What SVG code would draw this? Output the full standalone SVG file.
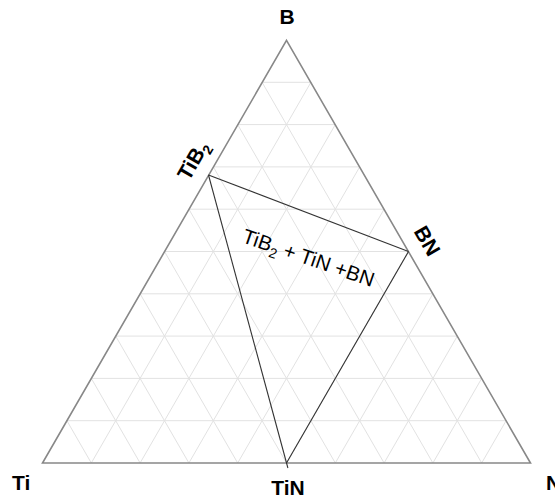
<svg xmlns="http://www.w3.org/2000/svg" width="555" height="502" viewBox="0 0 555 502">
<style>
.grid{stroke:#e2e2e2;stroke-width:1;fill:none}
.frame{stroke:#888;stroke-width:1.6;fill:none;stroke-linejoin:miter}
.tie{stroke:#333;stroke-width:1.1;fill:none}
.lbl{font-family:"Liberation Sans",Arial,sans-serif;font-weight:bold;font-size:21px;fill:#000}
.region{font-family:"Liberation Sans",Arial,sans-serif;font-size:20.5px;fill:#000}
</style>
<rect width="555" height="502" fill="#fff"/>
<g id="grid" class="grid">
<path d="M66.9 420.7H506.1M91.3 378.4H481.7M115.7 336.1H457.3M140.1 293.8H432.9M164.5 251.5H408.5M188.9 209.2H384.1M213.3 166.9H359.7M237.7 124.6H335.3M262.1 82.3H310.9"/>
<path d="M91.3 463L310.9 82.3M140.1 463L335.3 124.6M188.9 463L359.7 166.9M237.7 463L384.1 209.2M286.5 463L408.5 251.5M335.3 463L432.9 293.8M384.1 463L457.3 336.1M432.9 463L481.7 378.4M481.7 463L506.1 420.7"/>
<path d="M91.3 463L66.9 420.7M140.1 463L91.3 378.4M188.9 463L115.7 336.1M237.7 463L140.1 293.8M286.5 463L164.5 251.5M335.3 463L188.9 209.2M384.1 463L213.3 166.9M432.9 463L237.7 124.6M481.7 463L262.1 82.3"/>
</g>
<g id="frame">
<path class="frame" d="M286.5 40.4L530.5 463H42.5Z"/>
</g>
<g id="connectors" class="tie">
<path d="M208.5 175L408.5 251.5"/>
<path d="M208.5 175L287.9 468"/>
<path d="M408.5 251.5L286.5 463"/>
</g>
<g id="B"><text class="lbl" x="287" y="24" text-anchor="middle">B</text></g>
<g id="Ti"><text class="lbl" x="12" y="490">Ti</text></g>
<g id="N"><text class="lbl" x="546" y="490">N</text></g>
<g id="TiN"><text class="lbl" x="288" y="495" text-anchor="middle">TiN</text></g>
<g id="TiB2"><text class="lbl" transform="translate(194,161) rotate(-60)" text-anchor="middle" y="6">TiB<tspan font-size="14" dy="5">2</tspan></text></g>
<g id="BN"><text class="lbl" transform="translate(427,241) rotate(60)" text-anchor="middle" y="7">BN</text></g>
<g id="region"><text class="region" transform="translate(241,242) rotate(19)">TiB<tspan font-size="14" dy="5">2</tspan><tspan dy="-5"> + TiN +BN</tspan></text></g>
</svg>
